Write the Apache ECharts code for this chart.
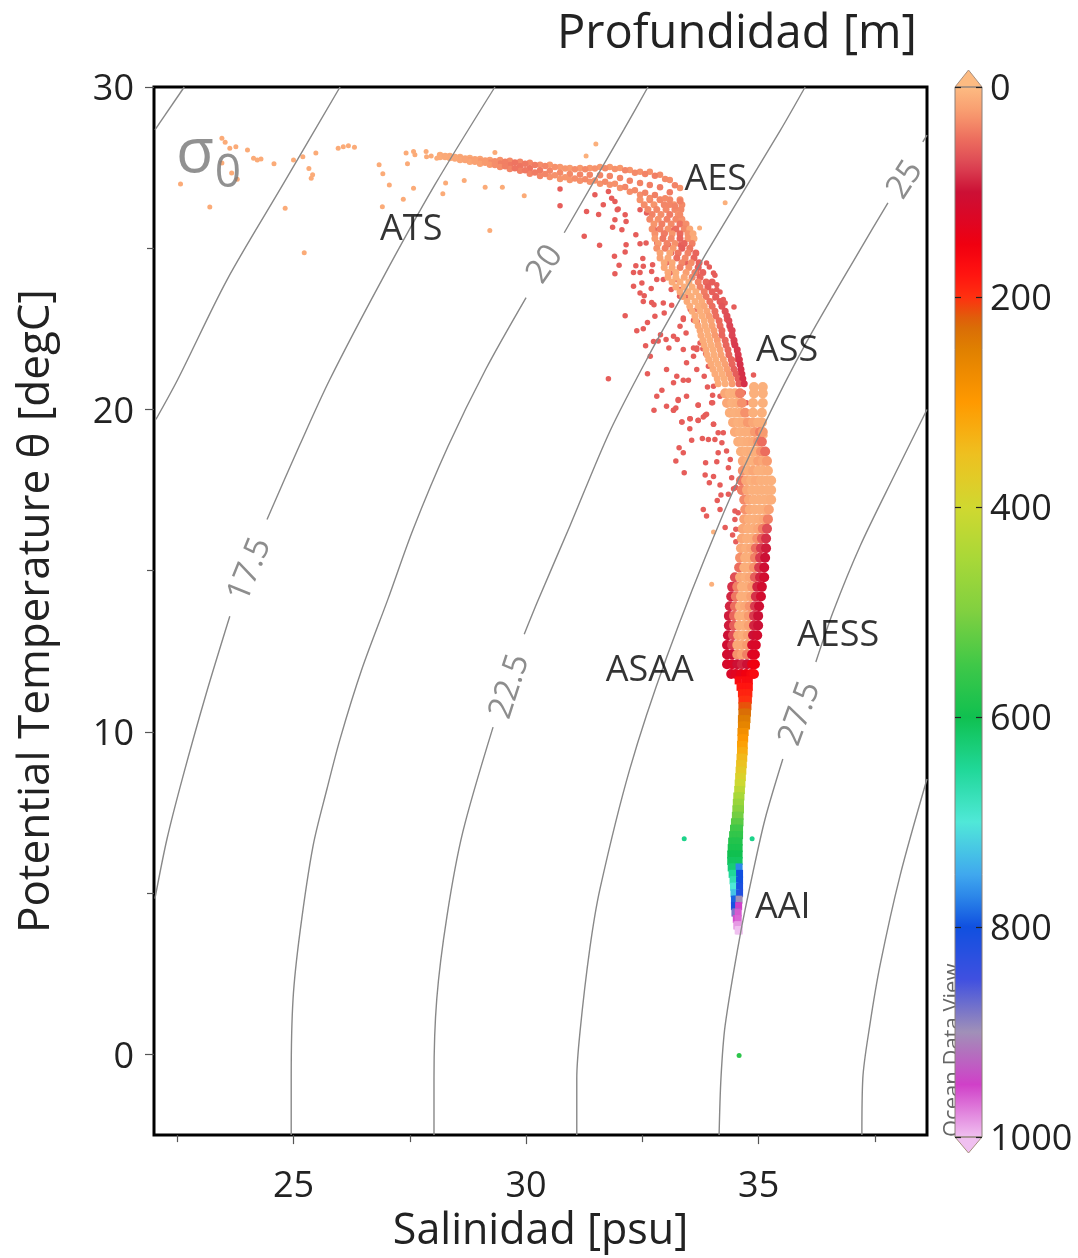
<!DOCTYPE html>
<html><head><meta charset="utf-8">
<style>html,body{margin:0;padding:0;background:#fff}#c{width:1078px;height:1258px}</style>
<script src="https://cdn.jsdelivr.net/npm/echarts@6/dist/echarts.min.js"></script>
</head><body><div id="c"></div>
<script>
// ---------- axis ticks ----------
const xMajor=[25,30,35], xMinor=[22.5,27.5,32.5,37.5];
const yMajor=[0,10,20,30], yMinor=[5,15,25];
const depthTicks=[0,200,400,600,800,1000];
const depthColors=['#fdbb82','#f89a6e','#ec6d5e','#dc4554','#cc1035','#dc0625','#f00010','#ff1010','#ff3010','#d86a08','#e08000','#f08c00','#ff9900','#f8ac10','#eec020','#e0cc28','#d0d830','#bcd834','#a8d838','#94d43c','#80d040','#60cc44','#40c848','#28c44c','#10c050','#18cc74','#20d898','#38e0b8','#50e8d8','#48c8e4','#40a8ee','#2880e8','#1050e0','#2850e0','#4050e0','#7070cc','#a090b8','#b868c0','#d040c8','#e080dc','#f0c0f0'];

// ---------- density contours [S, theta] ----------
const sigmaA=[[22.02,28.67],[22.65,30]];
const sigmaB=[[22.04,19.69],[22.51,20.93],[23.57,24.02],[24.77,26.97],[26.0,30]];
const sigma175low=[[22.02,4.83],[22.28,6.69],[22.62,8.61],[23.12,11.18],[23.63,13.59]];
const sigma175up=[[24.43,16.59],[25.14,18.92],[25.78,20.93],[26.90,24.02],[28.04,26.97],[29.33,30]];
const sigma20low=[[24.95,-2.5],[24.95,-0.74],[24.99,1.73],[25.14,3.81],[25.42,6.47],[25.72,8.24],[26.00,9.78],[26.47,11.95],[27.03,14.12],[27.57,16.28],[28.32,18.85],[29.13,21.24],[30.00,23.47]];
const sigma20up=[[30.82,25.48],[32.10,28.67],[32.62,30]];
const sigma225low=[[28.02,-2.5],[28.02,-0.74],[28.08,1.73],[28.30,4.30],[28.64,6.90],[29.29,10.15]];
const sigma225up=[[29.96,13.03],[30.26,14.09],[30.94,16.38],[31.80,19.32],[32.66,21.73],[33.37,23.56],[33.89,24.89],[35.46,28.64],[36.0,30]];
const sigma25low=[[31.09,-2.5],[31.09,-0.74],[31.16,0.71],[31.37,3.28],[31.59,5.14],[32.23,8.85],[33.03,12.35],[34.17,16.53],[35.09,19.44],[36.0,22.01],[37.18,24.95],[37.78,26.41]];
const sigma25up=[[38.53,28.30],[38.62,28.51]];
const sigma275low=[[34.15,-2.5],[34.19,-0.74],[34.28,0.90],[34.60,3.68],[34.88,5.66],[35.14,7.31],[35.52,9.16]];
const sigma275up=[[36.23,12.17],[36.60,13.72],[37.18,15.76],[37.93,17.99],[38.62,20.0]];
const sigma30=[[37.22,-2.5],[37.24,-0.74],[37.39,0.90],[37.61,2.76],[38.04,5.54],[38.62,8.54]];
const contourLines=[sigmaA,sigmaB,sigma175low,sigma175up,sigma20low,sigma20up,sigma225low,sigma225up,sigma25low,sigma25up,sigma275low,sigma275up,sigma30];

// ---------- contour and water-mass labels ----------
const contourText=['17.5','20','22.5','25','27.5'];
const contourS=[24.06,30.41,29.65,38.15,35.89];
const contourT=[15.03,24.5,11.41,27.12,10.57];
const contourAngle=[68,55,72,57,70];
const massText=['ATS','AES','ASS','AESS','ASAA','AAI'];
const massS=[27.53,34.08,35.61,36.71,32.66,35.52];
const massT=[25.58,27.12,21.83,12.97,11.89,4.55];

// ---------- surface scatter [S, theta, depth] ----------
const surfaceS=[23.46,23.53,23.63,23.76,24.01,24.14,24.22,24.30,24.58,25.00,25.20,25.48,25.96,26.07,26.18,26.31,26.84,26.92,27.06,25.33,25.41,25.38,22.57,23.20,24.82,25.23,23.79,23.67,23.46,27.58,27.36,26.91,27.42,27.58,27.61,27.45,27.85,27.86,27.96,28.08,28.27,28.21,28.67,29.22,29.12,29.49,29.96,29.33,31.50,31.29,34.28,33.73,34.03,35.14,33.99];
const surfaceT=[28.41,28.29,28.10,28.15,28.05,27.79,27.74,27.77,27.62,27.74,27.84,27.95,28.10,28.15,28.18,28.13,27.59,27.31,26.96,27.47,27.28,27.17,26.99,26.28,26.24,24.86,27.14,27.33,27.64,26.86,26.52,26.29,27.95,28.00,27.90,27.62,28.00,27.84,27.86,27.79,27.02,26.69,27.10,25.55,26.89,26.89,26.63,27.97,28.23,27.86,26.41,25.63,16.20,19.19,14.58];
const surfaceD=[12,12,12,12,12,12,12,12,12,12,12,12,12,12,12,12,12,12,12,12,12,12,12,12,12,12,12,12,12,12,12,12,12,12,12,12,12,12,12,12,12,12,12,12,12,12,12,12,8,8,8,8,8,8,8];

// ---------- subsurface crimson scatter ----------
const dotS=[30.73,30.73,31.30,31.56,31.25,31.58,31.48,31.66,31.98,32.13,31.91,32.15,32.06,31.86,32.36,32.15,32.13,32.45,32.58,31.90,32.00,31.91,32.51,32.36,32.52,32.31,32.45,32.72,32.70,32.49,32.69,32.95,32.54,32.52,32.70,32.75,33.12,32.13,32.61,32.97,32.38,32.52,33.44,32.89,33.01,32.74,32.84,32.57,33.07,33.25,33.38,33.60,33.68,33.13,33.30,31.77,32.61,32.92,32.81,32.75,33.27,33.17,33.24,33.38,33.49,33.83,33.90,34.01,33.99,33.70,33.85,33.53,33.70,33.35,34.03,34.89,33.60,33.67,33.80,33.86,33.92,33.60,34.47,33.94,34.06,33.99,34.10,34.17,34.06,34.24,34.28,34.31,34.39,34.42,34.48,34.53,34.60,34.62,34.64,34.67,34.74,
33.27,33.70,34.01,33.17,33.22,33.35,33.52,33.70,33.81,33.88,34.03,33.52,33.56,33.79,33.92,34.06,34.13,34.24,33.29,33.38,33.22,33.40,33.86,34.10,33.85,33.94,34.03,34.17,34.19,34.35,34.11,33.81,33.88,34.17,34.28,34.44,34.51,34.60,34.51,34.60,34.49,34.56,34.49,34.35,34.42,34.46,34.51,34.21,34.31,34.13,34.39,
31.77,31.84,31.91,31.96,32.45,32.59,32.77,32.81,32.99,33.17,33.06,32.88,33.13,33.31,33.53,33.45,33.67,33.24,33.10,33.31,33.45,33.53,33.67,33.38,33.88,34.03,34.10,34.28,34.31,34.46,34.53,34.60,33.74,33.67,33.92,34.03,34.17,33.02,32.81,32.95,32.45,32.31,32.77,33.17,33.31,33.38,33.02,32.67,33.45,33.67,33.17,33.45,33.02];
const dotT=[26.84,26.32,26.14,26.05,25.37,25.09,26.66,26.35,26.22,26.04,25.88,25.83,25.57,25.65,25.42,25.11,24.88,25.14,25.16,24.75,24.47,24.21,24.68,24.46,24.44,24.25,24.25,24.49,24.28,23.92,23.75,24.03,23.53,23.35,23.32,23.25,23.72,22.91,22.70,22.99,22.44,22.50,22.37,22.32,22.17,22.11,22.12,21.98,21.91,22.17,22.84,22.77,22.73,23.23,23.51,20.95,21.11,20.60,20.41,19.98,20.31,19.98,21.03,20.91,20.91,21.03,20.70,20.44,20.21,20.14,19.82,19.71,19.66,19.61,19.54,21.07,21.65,21.91,21.88,21.73,21.55,21.91,23.18,24.42,24.16,23.94,23.87,23.64,23.46,23.41,23.05,22.79,22.48,22.27,22.11,21.81,21.55,21.24,20.83,20.52,20.21,
20.28,20.13,20.21,19.98,20.05,19.61,19.71,19.67,19.77,19.85,19.54,19.40,19.05,19.10,19.07,19.07,19.28,19.28,18.81,18.66,18.40,18.04,18.35,18.38,17.97,17.73,17.92,17.66,17.35,17.37,17.18,16.90,16.70,16.90,16.34,16.11,16.29,16.29,15.90,15.98,16.59,16.80,16.85,18.19,17.88,17.54,17.58,18.97,18.71,18.66,18.45,
26.76,26.55,26.45,26.19,26.19,26.09,25.57,25.16,25.47,25.57,25.11,24.85,24.85,25.11,24.95,24.54,24.23,24.03,24.23,23.72,23.51,23.10,23.10,22.79,24.54,24.23,23.72,23.30,22.89,22.06,21.55,21.14,22.06,21.86,21.34,20.72,20.41,24.54,24.03,23.30,23.61,23.82,22.89,22.27,22.58,21.86,21.24,21.65,21.45,21.24,20.83,20.41,20.10];
const dotDepth=60;

// ---------- isolated deep samples ----------
const strayS=[33.40,34.86,34.58];
const strayT=[6.69,6.69,-0.03];
const strayD=[640,640,570];

// ---------- surface band, by salinity column ----------
const bandS=[28.15,28.36,28.58,28.79,29.01,29.22,29.44,29.65,29.87,30.08,30.30,30.51,30.73,30.94,31.16,31.37,31.59,31.80,32.02,32.23,32.45,32.66,32.88,33.09,33.31];
const bandTop=[27.89,27.86,27.83,27.80,27.77,27.74,27.74,27.71,27.68,27.65,27.59,27.59,27.52,27.49,27.49,27.49,27.52,27.52,27.49,27.43,27.37,27.37,27.28,27.12,26.87];
const bandMid=[27.86,27.83,27.78,27.74,27.70,27.66,27.63,27.58,27.54,27.48,27.42,27.40,27.34,27.30,27.29,27.28,27.26,27.24,27.18,27.09,27.02,26.96,26.89,26.74,26.46];
const bandBot=[27.83,27.80,27.74,27.68,27.62,27.59,27.52,27.46,27.40,27.31,27.24,27.21,27.15,27.12,27.09,27.06,27.00,26.97,26.87,26.75,26.66,26.56,26.50,26.35,26.04];
const bandTopD=[10,12,14,14,18,22,30,34,36,36,32,26,26,24,26,26,26,26,26,28,30,30,32,32,30];
const bandMidD=[14,16,18,22,26,32,40,44,46,46,42,36,34,34,36,36,36,36,36,38,38,40,42,42,40];
const bandBotD=[12,14,16,16,20,26,32,36,40,38,36,30,28,28,30,30,30,30,30,32,32,32,36,36,34];
const band2S=[28.26,28.47,28.69,28.90,29.12,29.33,29.55,29.76,29.98,30.19,30.41,30.62,30.84,31.05,31.27,31.48,31.70,31.91,32.13,32.34,32.56,32.77,32.99,33.20];
const band2High=[27.86,27.83,27.78,27.76,27.72,27.70,27.68,27.66,27.62,27.58,27.55,27.52,27.47,27.45,27.45,27.47,27.48,27.46,27.42,27.34,27.30,27.25,27.15,26.95];
const band2Low=[27.83,27.78,27.74,27.68,27.65,27.58,27.54,27.48,27.42,27.35,27.30,27.26,27.20,27.16,27.14,27.10,27.06,27.00,26.90,26.80,26.72,26.65,26.55,26.30];
const band2D=[14,15,18,20,25,32,40,46,44,42,36,30,28,32,34,30,34,30,36,34,38,40,34,38];

// ---------- thermocline rows: one temperature, several samples ----------
const ribbonT=[26.5,26.35,26.2,26.05,25.9,25.75,25.6,25.45,25.3,25.15,25.0,24.85,24.7,24.55,24.4,24.25,24.1,23.95,23.8,23.65,23.5,23.35,23.2,23.05,22.9,22.75,22.6,22.45,22.3,22.15,22.0,21.85,21.7,21.55,21.4,21.25,21.1,20.95,20.8];
const ribbonS=[
[32.45,32.66,32.88,33.09,33.31],[32.54,32.75,32.97,33.18,33.35],[32.62,32.81,33.01,33.20,33.33],[32.71,32.90,33.09,33.27],[32.66,32.84,33.03,33.22,33.35],[32.75,32.92,33.12,33.31,33.44],[32.71,32.88,33.05,33.22,33.40,33.52],[32.77,32.97,33.14,33.31,33.48,33.59],[32.77,32.94,33.12,33.31,33.48,33.61],[32.84,33.03,33.20,33.40,33.57],[32.81,32.99,33.16,33.35,33.52],[32.88,33.09,33.27,33.48,33.65],[32.88,33.05,33.24,33.42,33.61],[32.97,33.14,33.35,33.55,33.72],[32.97,33.14,33.31,33.50,33.70],[33.05,33.22,33.44,33.63,33.80],[33.05,33.22,33.40,33.57,33.74],[33.14,33.31,33.50,33.70,33.87,34.00],[33.22,33.40,33.57,33.74,33.91],[33.31,33.48,33.65,33.83,34.00],[33.37,33.55,33.72,33.87,34.08],[33.46,33.63,33.78,33.95,34.17],[33.52,33.70,33.83,34.00,34.21],[33.57,33.74,33.89,34.06,34.28],[33.63,33.78,33.93,34.08,34.32],[33.65,33.83,33.98,34.15,34.36],[33.70,33.85,34.00,34.17,34.38],[33.74,33.89,34.04,34.21,34.43],[33.76,33.91,34.06,34.21,34.43],[33.80,33.95,34.11,34.28,34.47],[33.83,33.98,34.13,34.30,34.49],[33.87,34.02,34.17,34.34,34.54],[33.89,34.04,34.19,34.36,34.56],[33.93,34.08,34.24,34.41,34.58],[33.98,34.13,34.28,34.43,34.60],[34.02,34.17,34.32,34.47,34.62],[34.06,34.21,34.36,34.51,34.64],[34.11,34.26,34.41,34.56,34.66],[34.13,34.28,34.43,34.58,34.69]];
const ribbonD=[
[30,35,30,35,30],[32,28,36,30,34],[35,35,35,35,35],[38,32,42,30],[35,30,40,35,30],[28,40,34,46,32],[30,40,30,50,35,15],[30,42,28,52,30,14],[25,45,35,55,30,12],[24,38,30,56,40],[30,40,25,60,45],[18,16,45,38,55],[20,15,50,35,55],[14,14,35,32,58],[15,15,40,30,60],[14,10,22,40,58],[15,10,15,35,55],[12,10,12,38,55,60],[12,10,10,40,60],[14,10,10,42,58],[20,10,12,45,60],[14,10,12,48,62],[12,10,15,50,65],[12,10,16,50,68],[12,10,20,50,70],[12,10,18,52,72],[15,10,20,50,75],[14,10,22,54,75],[12,10,25,55,75],[12,10,24,55,78],[12,10,20,55,80],[12,10,20,55,80],[12,10,20,55,80],[12,10,20,55,82],[12,10,20,55,85],[12,10,22,58,85],[12,10,25,60,85],[12,10,25,60,85],[12,10,25,60,85]];
const rowT=[20.7,20.5,20.2,19.9,19.6,19.3,19.0,18.7,18.4,18.1,17.8,17.5,17.2,16.9,16.6,16.3,16.0,15.7,15.4,15.1,14.8,14.5,14.2,13.9,13.6,13.3,13.0,12.7,12.4,12.1,11.8];
const rowS=[
[34.90,35.09],[34.28,34.38,34.49,34.60,34.90,35.09],[34.32,34.43,34.54,34.64,34.88,35.09],[34.38,34.49,34.60,34.71,34.88,35.07],[34.45,34.56,34.66,34.77,34.88,34.99,35.07],[34.49,34.60,34.71,34.81,34.92,35.03,35.09],[34.56,34.66,34.77,34.88,34.99,35.07],[34.62,34.73,34.84,34.94,35.05,35.14],[34.66,34.77,34.88,34.99,35.09,35.18],[34.66,34.77,34.88,34.99,35.09,35.20],[34.62,34.73,34.84,34.94,35.05,35.16,35.27],[34.64,34.75,34.86,34.97,35.07,35.18,35.27],[34.69,34.79,34.90,35.01,35.12,35.22,35.27],[34.71,34.81,34.92,35.03,35.14,35.22],[34.69,34.79,34.90,35.01,35.12,35.20],[34.66,34.77,34.88,34.99,35.09,35.18],[34.64,34.75,34.86,34.97,35.07,35.16],[34.62,34.73,34.84,34.94,35.05,35.16],[34.60,34.71,34.81,34.92,35.03,35.14],[34.58,34.69,34.79,34.90,35.01,35.12],[34.49,34.60,34.71,34.81,34.92,35.03,35.12],[34.43,34.54,34.64,34.75,34.86,34.97,35.07],[34.41,34.51,34.62,34.73,34.84,34.94,35.05],[34.38,34.49,34.60,34.71,34.81,34.92,35.01],[34.36,34.47,34.58,34.69,34.79,34.90,34.99],[34.36,34.47,34.58,34.69,34.79,34.90,34.99],[34.34,34.45,34.56,34.66,34.77,34.88,34.97],[34.32,34.43,34.54,34.64,34.75,34.86,34.94],[34.32,34.43,34.54,34.64,34.75,34.86,34.92],[34.32,34.43,34.54,34.64,34.75,34.86,34.92],[34.41,34.51,34.62,34.73,34.84,34.90]];
const rowD=[
[8,8],[15,8,10,40,8,8],[15,8,10,30,8,8],[10,8,10,30,8,8],[12,8,10,25,15,10,10],[12,8,10,10,25,40,25],[10,8,10,12,30,50],[10,8,10,10,30,50],[15,10,8,20,15,25],[30,10,15,8,8,10],[45,15,8,12,8,8,8],[40,15,8,8,8,8,8],[35,15,8,8,8,8,10],[30,12,8,8,10,20],[20,10,8,10,15,40],[15,10,10,15,40,70],[15,10,10,30,60,85],[15,10,15,50,80,95],[30,10,10,40,80,100],[50,10,10,30,80,105],[70,15,10,15,60,90,110],[85,40,10,10,25,90,110],[90,45,10,10,20,85,110],[90,50,10,15,30,80,105],[95,55,12,10,25,80,100],[95,60,12,10,20,90,100],[100,70,15,10,20,100,110],[105,80,15,15,25,115,120],[110,100,30,20,40,120,130],[115,120,100,90,100,140,150],[120,130,140,150,160,165]];

// ---------- intermediate column, below 12 degC ----------
const columnT=[11.6,11.4,11.2,11.0,10.8,10.6,10.4,10.2,10.0,9.8,9.6,9.4,9.2,9.0,8.8,8.6,8.4,8.2,8.0,7.8,7.6,7.4,7.2,7.0,6.8,6.6,6.4,6.2,6.0,5.8,5.6,5.4,5.2,5.0,4.8,4.6,4.4,4.2,4.0,3.85];
const columnLeft=[34.56,34.60,34.63,34.64,34.64,34.64,34.63,34.63,34.62,34.62,34.61,34.61,34.60,34.59,34.58,34.57,34.56,34.55,34.53,34.52,34.51,34.50,34.48,34.46,34.44,34.42,34.41,34.40,34.40,34.41,34.43,34.45,34.46,34.47,34.48,34.48,34.49,34.52,34.53,34.56];
const columnMid=[34.70,34.72,34.73,34.72,34.71,34.70,34.69,34.68,34.67,34.66,34.65,34.65,34.64,34.63,34.62,34.61,34.60,34.59,34.58,34.57,34.56,34.55,34.54,34.53,34.52,34.50,34.49,34.48,34.48,34.47,34.47,34.48,34.49,34.51,34.52,34.52,34.52,34.54,34.56,34.58];
const columnRight=[34.80,34.80,34.79,34.78,34.77,34.76,34.75,34.74,34.71,34.70,34.69,34.69,34.68,34.67,34.66,34.65,34.64,34.63,34.62,34.61,34.61,34.60,34.60,34.59,34.59,34.58,34.58,34.58,34.58,34.58,34.59,34.59,34.59,34.59,34.58,34.57,34.56,34.56,34.56,34.58];
const columnD=[165,178,190,200,215,230,245,260,280,295,310,325,340,355,370,385,405,425,450,470,490,510,530,550,565,580,590,600,610,625,650,670,700,730,790,810,880,955,985,1000];
const columnDRight=[165,178,190,200,215,230,245,260,280,295,310,325,340,355,370,385,405,425,450,470,490,510,530,550,565,580,590,600,610,770,800,800,810,820,900,950,960,965,985,1000];

// ---------- assemble samples ----------
const surfacePts=surfaceS.map((s,i)=>[s,surfaceT[i],surfaceD[i]]);
const dotPts=dotS.map((s,i)=>[s,dotT[i],dotDepth]);
const strayPts=strayS.map((s,i)=>[s,strayT[i],strayD[i]]);
const bandPts=[];
bandS.forEach((s,i)=>{bandPts.push([s,bandTop[i],bandTopD[i]],[s,bandMid[i],bandMidD[i]],[s,bandBot[i],bandBotD[i]]);});
band2S.forEach((s,i)=>{bandPts.push([s,band2High[i],band2D[i]],[s,band2Low[i],band2D[i]]);});
const ribbonPts=[];
ribbonT.forEach((t,i)=>ribbonS[i].forEach((s,j)=>ribbonPts.push([s,t,ribbonD[i][j]])));
const rowPts=[];
rowT.forEach((t,i)=>rowS[i].forEach((s,j)=>rowPts.push([s,t,rowD[i][j]])));
const colPts=[];
columnT.forEach((t,i)=>{colPts.push([columnLeft[i],t,columnD[i]],[columnMid[i],t,columnD[i]],[columnRight[i],t,columnDRight[i]]);});

const ff='"Open Sans", sans-serif';
const txt='#222';
const series=[];
function dots(data,size,symbol){series.push({type:'scatter',xAxisIndex:0,yAxisIndex:0,data,symbol:symbol||'circle',symbolSize:size,z:2,silent:true,animation:false,large:false,itemStyle:{opacity:1}});}
dots(dotPts,5.5);
dots(surfacePts,5);
dots(strayPts,5);
dots(ribbonPts,7);
dots(bandPts,6.5);
dots(rowPts,10);
dots(colPts,[7,8],'rect');
const mapped=series.map((_,i)=>i);
contourLines.forEach(d=>series.push({type:'line',xAxisIndex:0,yAxisIndex:0,data:d,smooth:0.3,showSymbol:false,silent:true,z:3,animation:false,lineStyle:{color:'#888',width:1.4}}));
function textSeries(names,ss,ts,angles,size,color){
  series.push({type:'scatter',xAxisIndex:0,yAxisIndex:0,symbolSize:1,z:5,silent:true,animation:false,itemStyle:{color:'transparent'},
    data:names.map((n,i)=>({name:n,value:[ss[i],ts[i]],label:{rotate:angles?angles[i]:0}})),
    label:{show:true,position:'inside',formatter:'{b}',fontFamily:ff,fontSize:size,color,textBorderWidth:0,textBorderColor:'transparent'}});
}
textSeries(contourText,contourS,contourT,contourAngle,33,'#707070');
textSeries(massText,massS,massT,null,36,'#000');
textSeries(['σ'],[22.88],[27.9],null,62,'#757575');
textSeries(['0'],[23.59],[27.3],null,46,'#757575');

const tickStyle={color:'#555',width:1.2};
const chart=echarts.init(document.getElementById('c'),null,{renderer:'canvas'});
chart.setOption({
  animation:false,backgroundColor:'#fff',
  title:{text:'Profundidad [m]',left:552,top:6,textStyle:{fontFamily:ff,fontSize:47,fontWeight:'normal',color:txt}},
  grid:[
    {left:154,top:87,width:773,height:1050,show:true,borderColor:'#000',borderWidth:3,backgroundColor:'#fff'},
    {left:955,top:87,width:27,height:1050,show:false}
  ],
  xAxis:[
    {type:'value',gridIndex:0,min:22,max:38.62,position:'bottom',name:'Salinidad [psu]',nameLocation:'middle',nameGap:74,
     nameTextStyle:{fontFamily:ff,fontSize:43,color:txt},splitLine:{show:false},axisLine:{show:false,onZero:false},
     axisTick:{show:true,length:9,lineStyle:tickStyle,customValues:xMajor},
     axisLabel:{show:true,customValues:xMajor,fontFamily:ff,fontSize:36,color:txt,margin:34}},
    {type:'value',gridIndex:0,min:22,max:38.62,position:'bottom',splitLine:{show:false},axisLine:{show:false,onZero:false},
     axisTick:{show:true,length:7,lineStyle:tickStyle,customValues:xMinor},axisLabel:{show:false}},
    {type:'value',gridIndex:1,min:0,max:1,show:false}
  ],
  yAxis:[
    {type:'value',gridIndex:0,min:-2.5,max:30,position:'left',name:'Potential Temperature θ [degC]',nameLocation:'middle',nameGap:96,
     nameTextStyle:{fontFamily:ff,fontSize:44,color:txt},splitLine:{show:false},axisLine:{show:false,onZero:false},
     axisTick:{show:true,length:9,lineStyle:tickStyle,customValues:yMajor},
     axisLabel:{show:true,customValues:yMajor,fontFamily:ff,fontSize:36,color:txt,margin:20,verticalAlign:'top',lineHeight:6}},
    {type:'value',gridIndex:0,min:-2.5,max:30,position:'left',splitLine:{show:false},axisLine:{show:false,onZero:false},
     axisTick:{show:true,length:7,lineStyle:tickStyle,customValues:yMinor},axisLabel:{show:false}},
    {type:'value',gridIndex:1,min:0,max:1000,inverse:true,position:'right',z:10,splitLine:{show:false},axisLine:{show:false,onZero:false},
     axisTick:{show:true,inside:true,length:6,lineStyle:{color:'#222',width:1.2},customValues:depthTicks},
     axisLabel:{show:true,customValues:depthTicks,formatter:v=>String(v),fontFamily:ff,fontSize:36,color:txt,margin:8,align:'left',verticalAlign:'top',lineHeight:6}},
    {type:'value',gridIndex:1,min:0,max:1000,inverse:true,position:'left',z:10,splitLine:{show:false},axisLine:{show:false,onZero:false},
     axisTick:{show:true,inside:true,length:6,lineStyle:{color:'#222',width:1.2},customValues:depthTicks},axisLabel:{show:false}}
  ],
  visualMap:{type:'continuous',min:0,max:1000,dimension:2,seriesIndex:mapped,inverse:true,orient:'vertical',left:955,top:87,itemWidth:27,itemHeight:1050,padding:0,calculable:false,hoverLink:false,text:null,z:4,inRange:{color:depthColors}},
  graphic:[
    {type:'text',z:1,x:942,y:1137,rotation:Math.PI/2,style:{text:'Ocean Data View',font:'22px "Open Sans"',fill:'#666'}},
    {type:'polygon',z:6,shape:{points:[[955,87],[982,87],[968.5,70]]},style:{fill:'#fdbb82',stroke:'#a89080',lineWidth:1}},
    {type:'polygon',z:6,shape:{points:[[955,1137],[982,1137],[968.5,1153]]},style:{fill:'#f0c0f0',stroke:'#a89080',lineWidth:1}},
    {type:'rect',z:6,shape:{x:955,y:87,width:27,height:1050},style:{fill:'transparent',stroke:'#8a7f78',lineWidth:1}}
  ],
  series
});
</script></body></html>
